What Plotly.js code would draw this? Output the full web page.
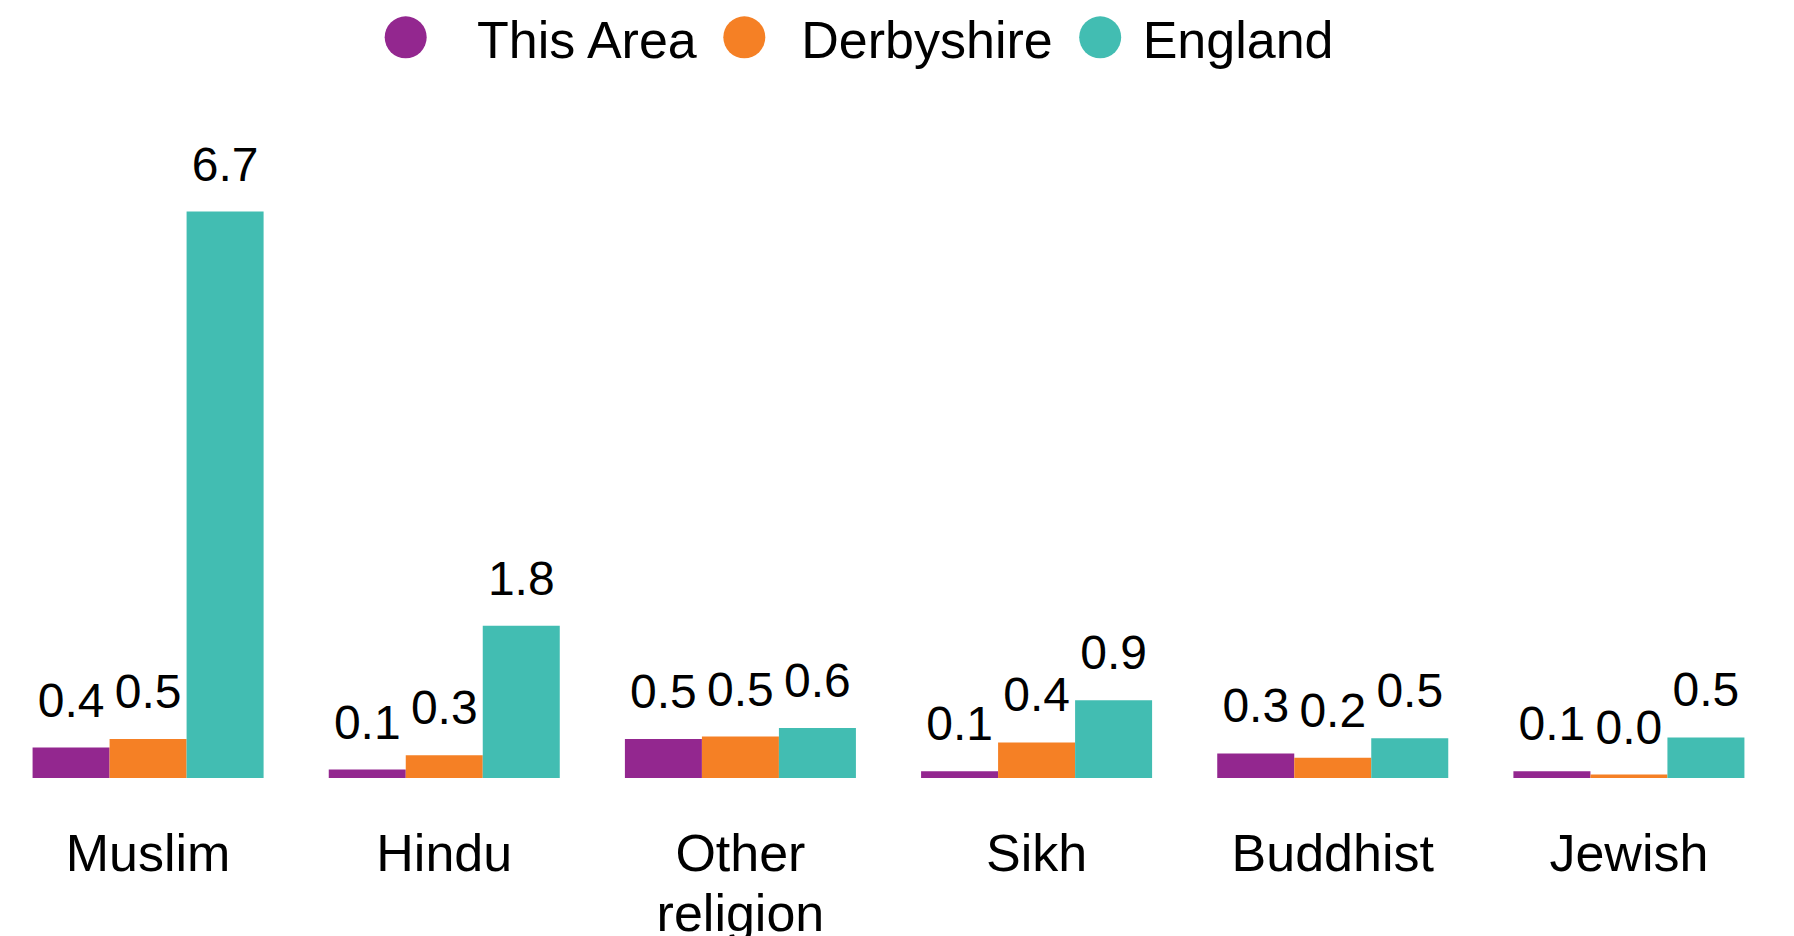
<!DOCTYPE html>
<html>
<head>
<meta charset="utf-8">
<script src="https://cdn.plot.ly/plotly-3.0.1.min.js"></script>
<style>
html,body{margin:0;padding:0;background:#fff;}
#chart{width:1794px;height:936px;}
</style>
</head>
<body>
<div id="chart"></div>
<script>
// Data
var categories = ["Muslim", "Hindu", "Other religion", "Sikh", "Buddhist", "Jewish"];
var tickLabels = ["Muslim", "Hindu", "Other<br>religion", "Sikh", "Buddhist", "Jewish"];
var seriesNames = ["This Area", "Derbyshire", "England"];
var thisArea = [0.36, 0.10, 0.46, 0.08, 0.29, 0.08];
var derbyshire = [0.46, 0.27, 0.49, 0.42, 0.24, 0.04];
var england = [6.70, 1.80, 0.59, 0.92, 0.47, 0.48];
var colors = ["#93278F", "#F58025", "#42BDB2"];
var legendPad = ["\u00a0\u00a0", "\u00a0", ""];

var FONT = "Liberation Sans, Arial, Helvetica, sans-serif";
var seriesValues = [thisArea, derbyshire, england];

var traces = [];
seriesValues.forEach(function (vals, i) {
  traces.push({
    type: "bar",
    x: categories,
    y: vals,
    name: seriesNames[i],
    showlegend: false,
    marker: { color: colors[i] },
    texttemplate: "%{y:.1f}",
    textposition: "outside",
    cliponaxis: false,
    textfont: { family: FONT, size: 48, color: "#000" },
    hoverinfo: "skip"
  });
});
// legend entries (circles)
seriesValues.forEach(function (vals, i) {
  traces.push({
    type: "scatter",
    mode: "markers",
    x: [null],
    y: [null],
    name: legendPad[i] + seriesNames[i],
    marker: { color: colors[i], size: 16, symbol: "circle" },
    showlegend: true,
    hoverinfo: "skip"
  });
});

var layout = {
  width: 1794,
  height: 936,
  margin: { l: 0, r: 17, t: 100, b: 158 },
  paper_bgcolor: "#fff",
  plot_bgcolor: "#fff",
  barmode: "group",
  bargap: 0.22,
  bargroupgap: 0,
  font: { family: FONT, color: "#000" },
  showlegend: true,
  legend: {
    orientation: "h",
    x: 0.479,
    xanchor: "center",
    y: 1,
    yref: "container",
    yanchor: "top",
    font: { family: FONT, size: 52, color: "#000" },
    itemwidth: 75,
    bgcolor: "rgba(0,0,0,0)",
    traceorder: "normal"
  },
  xaxis: {
    type: "category",
    tickvals: categories,
    ticktext: tickLabels,
    showgrid: false,
    zeroline: false,
    showline: false,
    ticks: "",
    ticklabelstandoff: 40,
    tickfont: { family: FONT, size: 52, color: "#000" },
    fixedrange: true
  },
  yaxis: {
    range: [0, 8.02],
    visible: false,
    showgrid: false,
    zeroline: false,
    fixedrange: true
  }
};

Plotly.newPlot("chart", traces, layout, { staticPlot: true, displayModeBar: false }).then(function () {
  document.querySelectorAll(".legend .legendpoints path.scatterpts").forEach(function (p) {
    p.setAttribute("d", "M21,0A21,21 0 1,1 0,-21A21,21 0 0,1 21,0Z");
  });
  var lg = document.querySelector(".legend");
  if (lg) {
    var tr0 = lg.getAttribute("transform") || "";
    lg.setAttribute("transform", "translate(0,-3) " + tr0);
  }
  document.querySelectorAll(".bars text.bartext").forEach(function (t) {
    var tr = t.getAttribute("transform") || "";
    t.setAttribute("transform", "translate(0,-18) " + tr);
  });
  document.querySelectorAll(".xtick text tspan.line").forEach(function (s) {
    var dy = s.getAttribute("dy");
    if (dy && parseFloat(dy) > 0) {
      s.setAttribute("dy", (parseFloat(dy) / 1.3 * 1.15) + "em");
    }
  });
});
</script>
</body>
</html>
